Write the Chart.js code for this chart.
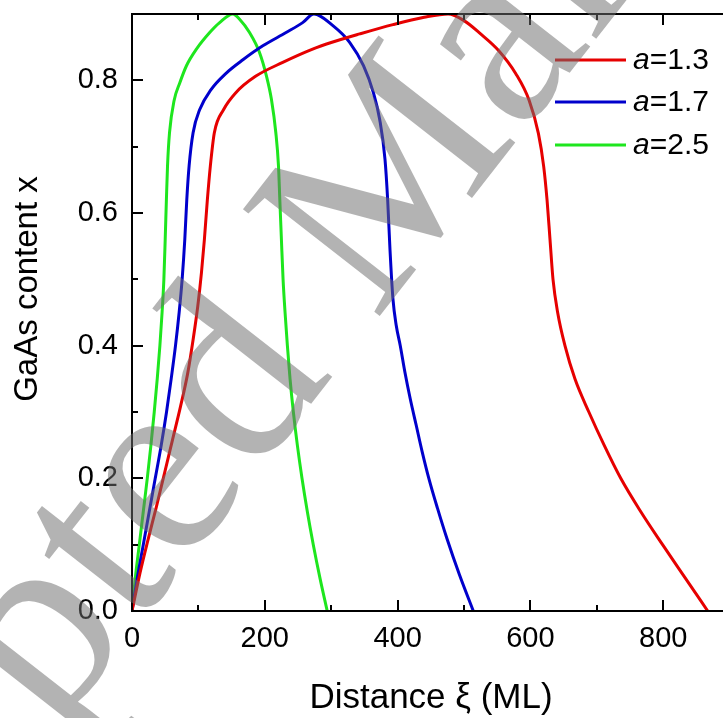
<!DOCTYPE html>
<html>
<head>
<meta charset="utf-8">
<script src="https://cdn.jsdelivr.net/npm/chart.js@4.4.1/dist/chart.umd.min.js"></script>
<style>
  html, body { margin: 0; padding: 0; background: #fff; }
  #wrap { width: 723px; height: 718px; position: relative; }
</style>
</head>
<body>
<div id="wrap"><canvas id="chart" width="723" height="718"></canvas></div>
<script>
// curves: distance xi (ML) vs GaAs content x
const xiRed = [0, 12, 24, 36.7, 49, 61, 73, 84, 92, 99, 104.6, 109, 113.5, 118, 124, 138, 156, 186, 227, 272, 300, 343, 393, 440, 476,
  500, 525, 552, 578, 598, 612, 620, 625, 629.5, 634, 641, 652, 667, 688, 711, 736, 766, 799, 833, 867];
const xRed = [0, 0.057, 0.107, 0.157, 0.208, 0.258, 0.308, 0.359, 0.409, 0.459, 0.51, 0.56, 0.62, 0.671, 0.721, 0.756, 0.781, 0.806, 0.827, 0.847, 0.857, 0.87, 0.884, 0.895, 0.9,
  0.89, 0.87, 0.845, 0.81, 0.77, 0.72, 0.67, 0.62, 0.56, 0.5, 0.45, 0.4, 0.35, 0.3, 0.25, 0.2, 0.15, 0.1, 0.05, 0];

const xiBlue = [0, 8, 17, 26, 35, 44, 52, 59, 65.5, 71, 75.5, 79.5, 82.5, 86, 92, 102, 119, 142, 167, 197, 232, 257, 274,
  303, 328, 348.6, 363.6, 373, 381, 385, 388.5, 393, 398, 404, 411, 419, 428, 437, 447, 460, 474, 493, 514];
const xBlue = [0, 0.05, 0.1, 0.15, 0.2, 0.25, 0.3, 0.35, 0.4, 0.45, 0.5, 0.56, 0.62, 0.671, 0.721, 0.756, 0.786, 0.811, 0.831, 0.852, 0.872, 0.887, 0.9,
  0.882, 0.857, 0.822, 0.781, 0.741, 0.681, 0.62, 0.545, 0.47, 0.43, 0.4, 0.36, 0.32, 0.28, 0.24, 0.2, 0.155, 0.11, 0.055, 0];

const xiGreen = [0, 5, 11, 17, 23, 28.5, 33.5, 38, 42, 45.3, 48, 50, 51.8, 53.5, 56.5, 63.5, 71.9, 82, 97, 117, 132, 152,
  162, 177, 192, 202.6, 210, 216.6, 220.6, 222.6, 225, 227.5, 230.5, 234, 238, 243, 249, 256, 264, 273, 283, 294];
const xGreen = [0, 0.05, 0.1, 0.15, 0.2, 0.25, 0.3, 0.35, 0.4, 0.45, 0.5, 0.56, 0.62, 0.671, 0.721, 0.77, 0.796, 0.822, 0.847, 0.872, 0.887, 0.9,
  0.892, 0.872, 0.842, 0.806, 0.771, 0.721, 0.671, 0.62, 0.56, 0.5, 0.45, 0.4, 0.35, 0.3, 0.25, 0.2, 0.15, 0.1, 0.05, 0];

const seriesNames = ['1.3', '1.7', '2.5'];
const seriesColors = ['#e60000', '#0000cc', '#1ee61e'];

const xTicksMajor = [0, 200, 400, 600, 800];
const yTicksMajor = [0, 0.2, 0.4, 0.6, 0.8];

const FONT = '"Liberation Sans", Arial, sans-serif';

function pts(xs, ys) {
    return xs.map((x, i) => ({ x: x, y: ys[i] }));
}

// frame, inward ticks, axis titles, legend and watermark
const decor = {
    id: 'decor',
    afterDraw(chart) {
        const { ctx, chartArea: a, scales: { x, y } } = chart;
        ctx.save();
        ctx.strokeStyle = '#000';
        ctx.lineWidth = 2;
        ctx.beginPath();
        ctx.moveTo(a.left, a.top); ctx.lineTo(a.right + 2, a.top);
        ctx.moveTo(a.left, a.top - 1); ctx.lineTo(a.left, a.bottom + 1);
        ctx.moveTo(a.left - 1, a.bottom); ctx.lineTo(a.right + 2, a.bottom);
        for (let v = 0; v <= 900; v += 100) {
            const px = Math.round(x.getPixelForValue(v));
            if (px > a.right) continue;
            const len = v % 200 === 0 ? 11 : 6;
            ctx.moveTo(px, a.bottom); ctx.lineTo(px, a.bottom - len);
            ctx.moveTo(px, a.top); ctx.lineTo(px, a.top + len);
        }
        for (let k = 0; k <= 9; k++) {
            const py = Math.round(y.getPixelForValue(k / 10));
            const len = k % 2 === 0 ? 11 : 6;
            ctx.moveTo(a.left, py); ctx.lineTo(a.left + len, py);
        }
        ctx.stroke();

        // axis titles
        ctx.fillStyle = '#000';
        ctx.font = '35px ' + FONT;
        ctx.textAlign = 'center';
        ctx.textBaseline = 'alphabetic';
        ctx.fillText('Distance \u03BE (ML)', 431, 708);
        ctx.save();
        ctx.translate(37, 289);
        ctx.rotate(-Math.PI / 2);
        ctx.font = '33px ' + FONT;
        ctx.fillText('GaAs content x', 0, 0);
        ctx.restore();

        // legend
        const rows = [60, 102, 145];
        chart.data.datasets.forEach((ds, i) => {
            ctx.strokeStyle = ds.borderColor;
            ctx.lineWidth = 3;
            ctx.beginPath();
            ctx.moveTo(555, rows[i]); ctx.lineTo(626, rows[i]);
            ctx.stroke();
            ctx.fillStyle = '#000';
            ctx.textAlign = 'left';
            ctx.textBaseline = 'middle';
            ctx.font = 'italic 30px ' + FONT;
            ctx.fillText('a', 633, rows[i] + 1);
            const w = ctx.measureText('a').width;
            ctx.font = '30px ' + FONT;
            ctx.fillText('=' + seriesNames[i], 633 + w, rows[i] + 1);
        });

        // watermark
        ctx.save();
        ctx.font = '265px "Liberation Serif", "Times New Roman", serif';
        ctx.fillStyle = 'rgba(110,110,110,0.52)';
        ctx.textAlign = 'left';
        ctx.textBaseline = 'alphabetic';
        ctx.translate(375, 322);
        ctx.rotate(-52 * Math.PI / 180);
        const off = ctx.measureText('Accepted ').width;
        ctx.fillText('Accepted Manuscript', -off, 0);
        ctx.restore();
        ctx.restore();
    }
};

new Chart(document.getElementById('chart'), {
    type: 'line',
    data: {
        datasets: seriesNames.map((n, i) => ({
            label: 'a=' + n,
            data: pts([xiRed, xiBlue, xiGreen][i], [xRed, xBlue, xGreen][i]),
            borderColor: seriesColors[i],
            borderWidth: 3,
            pointRadius: 0,
            cubicInterpolationMode: 'monotone',
            fill: false
        }))
    },
    options: {
        responsive: false,
        animation: false,
        layout: { padding: { top: 14, right: 0, left: 0, bottom: 0 } },
        plugins: { legend: { display: false }, tooltip: { enabled: false } },
        scales: {
            x: {
                type: 'linear',
                min: 0,
                max: 890,
                afterFit: (s) => { s.height = 107; s.paddingLeft = 0; s.paddingRight = 0; },
                afterBuildTicks: (s) => { s.ticks = xTicksMajor.map(v => ({ value: v })); },
                grid: { display: false, drawTicks: false },
                border: { display: false },
                ticks: {
                    padding: 11,
                    color: '#000',
                    font: { family: FONT, size: 29 },
                    maxRotation: 0,
                    callback: (v) => String(v)
                }
            },
            y: {
                type: 'linear',
                min: 0,
                max: 0.9,
                afterFit: (s) => { s.width = 132; s.paddingTop = 0; s.paddingBottom = 0; },
                afterBuildTicks: (s) => { s.ticks = yTicksMajor.map(v => ({ value: v })); },
                grid: { display: false, drawTicks: false },
                border: { display: false },
                ticks: {
                    padding: 14,
                    color: '#000',
                    font: { family: FONT, size: 29 },
                    callback: (v) => v.toFixed(1)
                }
            }
        }
    },
    plugins: [decor]
});
</script>
</body>
</html>
